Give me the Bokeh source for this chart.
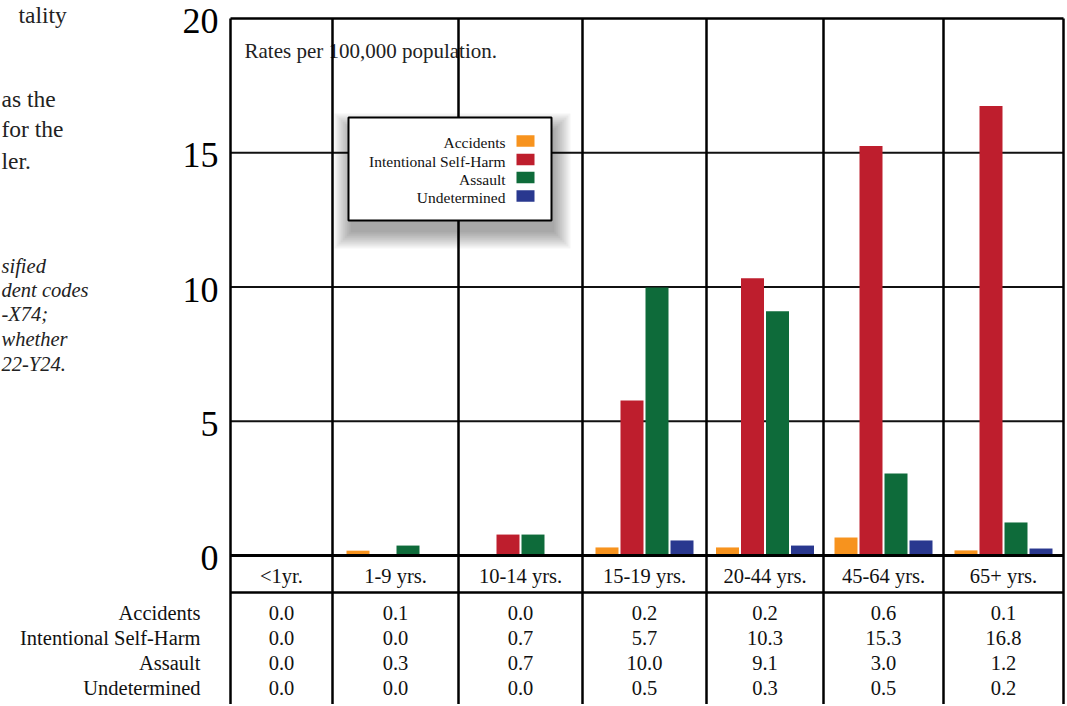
from bokeh.plotting import figure
from bokeh.models import Range1d
from bokeh.core.properties import value
from bokeh.embed import file_html
from bokeh.resources import INLINE

# ---------------- data ----------------
categories = ["<1yr.", "1-9 yrs.", "10-14 yrs.", "15-19 yrs.", "20-44 yrs.", "45-64 yrs.", "65+ yrs."]
series = ["Accidents", "Intentional Self-Harm", "Assault", "Undetermined"]

# rates drawn as bars (per 100,000 population)
accidents = [0.0, 0.18, 0.0, 0.30, 0.30, 0.67, 0.19]
self_harm = [0.0, 0.0, 0.78, 5.77, 10.33, 15.25, 16.74]
assault = [0.0, 0.37, 0.78, 9.98, 9.10, 3.05, 1.23]
undetermined = [0.0, 0.0, 0.0, 0.56, 0.37, 0.56, 0.26]

# rates printed in the table
accidents_tbl = ["0.0", "0.1", "0.0", "0.2", "0.2", "0.6", "0.1"]
self_harm_tbl = ["0.0", "0.0", "0.7", "5.7", "10.3", "15.3", "16.8"]
assault_tbl = ["0.0", "0.3", "0.7", "10.0", "9.1", "3.0", "1.2"]
undetermined_tbl = ["0.0", "0.0", "0.0", "0.5", "0.3", "0.5", "0.2"]

y_ticks = [0, 5, 10, 15, 20]
note = "Rates per 100,000 population."
side_lines = ["tality", "as the", "for the", "ler."]
side_notes = ["sified", "dent codes", "-X74;", "whether", "22-Y24."]

# ---------------- layout / style ----------------
colors = ["#F7931E", "#BE1E2D", "#0E6B3A", "#29388F"]
FONT = "Liberation Serif"
W, H = 1065, 704
LEFT, TOP_LINE = 230, 18          # screen position of the plot's left spine and top line
PX = 26.85                        # pixels per rate unit
col_edges = [0, 102, 228, 352, 476, 593, 713, 833]   # column boundaries (x units = px)
BAR_W, BAR_STEP = 23, 25


def X(sx):
    return sx - LEFT


def Y(sy):
    return 20 - (sy - TOP_LINE) / PX


p = figure(width=W, height=H, x_range=Range1d(X(0), X(W)), y_range=Range1d(Y(H), Y(0)),
           output_backend="svg", toolbar_location=None, x_axis_location=None, y_axis_location=None,
           min_border=0, min_border_left=0, min_border_right=0, min_border_top=0, min_border_bottom=0)
p.outline_line_color = None
p.background_fill_color = "white"
p.border_fill_color = "white"
p.xgrid.visible = False
p.ygrid.visible = False

xmax = col_edges[-1]
ybot = Y(H)
centers = [(col_edges[i] + col_edges[i + 1]) / 2 for i in range(len(categories))]

# note text (under grid lines)
p.text(x=[X(244)], y=[Y(50)], text=[note], text_align="left", text_baseline="middle",
       text_font=value(FONT), text_font_size="21px", text_color="#222222")

# horizontal grid lines
grid_y = [t for t in y_ticks if 0 < t < 20]
p.segment(x0=[0] * len(grid_y), x1=[xmax] * len(grid_y), y0=grid_y, y1=grid_y,
          line_color="#111111", line_width=2)
# top line
p.segment(x0=[0], x1=[xmax], y0=[20], y1=[20], line_color="black", line_width=2.5)
# vertical column lines (through plot and table)
p.segment(x0=col_edges, x1=col_edges, y0=[20] * len(col_edges), y1=[ybot] * len(col_edges),
          line_color="black", line_width=2.5)

# y tick labels
p.text(x=[X(218)] * len(y_ticks), y=[t - 2.5 / PX for t in y_ticks], text=[str(t) for t in y_ticks],
       text_align="right", text_baseline="middle", text_font=value(FONT), text_font_size="36px",
       text_color="black")

# bars
for j, vals in enumerate([accidents, self_harm, assault, undetermined]):
    xs = [c + (j - 1.5) * BAR_STEP for c in centers]
    p.vbar(x=xs, top=vals, bottom=0, width=BAR_W, fill_color=colors[j], line_color=None)

# x axis line and table header line
p.segment(x0=[0], x1=[xmax], y0=[0], y1=[0], line_color="black", line_width=3)
p.segment(x0=[0], x1=[xmax], y0=[Y(592)], y1=[Y(592)], line_color="black", line_width=2.5)

# table header and values
p.text(x=centers, y=[Y(575)] * len(centers), text=categories, text_align="center",
       text_baseline="middle", text_font=value(FONT), text_font_size="20.5px", text_color="#111111")
row_y = [Y(612), Y(637), Y(662), Y(687)]
for r, row in enumerate([accidents_tbl, self_harm_tbl, assault_tbl, undetermined_tbl]):
    p.text(x=centers, y=[row_y[r]] * len(centers), text=row, text_align="center",
           text_baseline="middle", text_font=value(FONT), text_font_size="20.5px", text_color="#111111")
p.text(x=[X(200)] * 4, y=row_y, text=series, text_align="right", text_baseline="middle",
       text_font=value(FONT), text_font_size="20.5px", text_color="#111111")

# legend with drop shadow
lx0, lx1 = X(348), X(551)
lt, lb = 117, 220
for k in range(9):
    e = 2 * k
    p.quad(left=[lx0 + 2 - e], right=[lx1 + 3 + e], top=[Y(lt + 12 - e)], bottom=[Y(lb + 12 + e)],
           fill_color="black", fill_alpha=0.045, line_color=None)
p.quad(left=[lx0], right=[lx1], top=[Y(lt)], bottom=[Y(lb)], fill_color="white",
       line_color="black", line_width=2)
leg_rows = [Y(142), Y(160.5), Y(178.5), Y(197)]
p.text(x=[X(505)] * 4, y=leg_rows, text=series, text_align="right", text_baseline="middle",
       text_font=value(FONT), text_font_size="15.5px", text_color="#111111")
p.rect(x=[X(525)] * 4, y=[v + 1.5 / PX for v in leg_rows], width=18, height=11.7 / PX,
       fill_color=colors, line_color=None)

# caption fragments at the left edge
side_x = [X(18), X(1), X(1), X(1)]
side_y = [Y(14), Y(98), Y(128), Y(160)]
for t, xx, yy in zip(side_lines, side_x, side_y):
    p.text(x=[xx], y=[yy], text=[t], text_align="left", text_baseline="middle",
           text_font=value(FONT), text_font_size="23.5px", text_color="#222222")
note_y = [Y(265), Y(289), Y(313), Y(338), Y(363)]
p.text(x=[X(1)] * len(side_notes), y=note_y, text=side_notes, text_align="left",
       text_baseline="middle", text_font=value(FONT), text_font_size="20.5px",
       text_font_style="italic", text_color="#222222")

open("out.html", "w").write(file_html(p, INLINE))
